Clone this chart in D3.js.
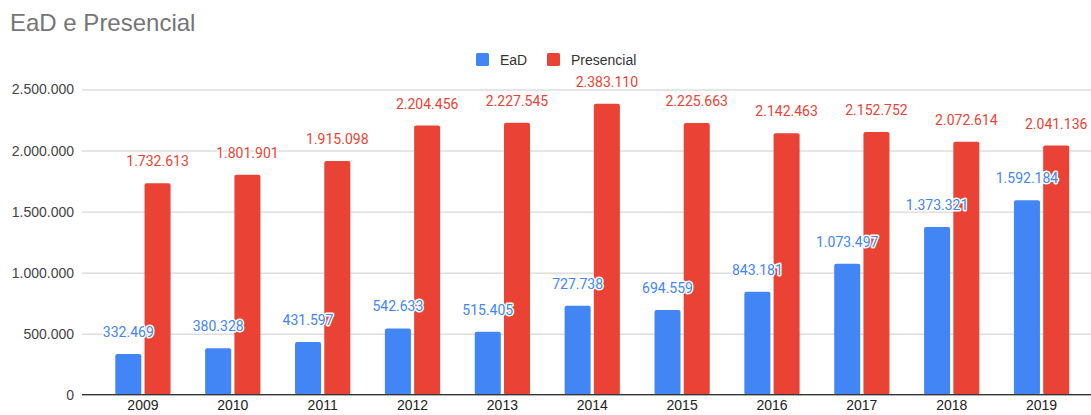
<!DOCTYPE html>
<html>
<head>
<meta charset="utf-8">
<script src="https://cdn.jsdelivr.net/npm/d3@7"></script>
<style>
  html, body { margin: 0; padding: 0; background: #fff; }
  svg { display: block; }
</style>
</head>
<body>
<svg id="chart" width="1091" height="415"></svg>
<script>
// Matrículas por ano: ensino a distância (EaD) e presencial
const years = ["2009", "2010", "2011", "2012", "2013", "2014", "2015", "2016", "2017", "2018", "2019"];
const eadValues = [332469, 380328, 431597, 542633, 515405, 727738, 694559, 843181, 1073497, 1373321, 1592184];
const presencialValues = [1732613, 1801901, 1915098, 2204456, 2227545, 2383110, 2225663, 2142463, 2152752, 2072614, 2041136];
const seriesNames = ["EaD", "Presencial"];
const seriesColors = ["#4285f4", "#ea4335"];
const yTicks = [0, 500000, 1000000, 1500000, 2000000, 2500000];

const fmt = d3.formatLocale({ decimal: ",", thousands: ".", grouping: [3], currency: ["R$", ""] }).format(",d");

const svg = d3.select("#chart");

const plot = { left: 82, right: 1091, top: 89.5, bottom: 394.7 };

const x0 = d3.scaleBand()
  .domain(years)
  .range([98, 1086.5])
  .paddingInner(0.385)
  .paddingOuter(0.1925);

const x1 = d3.scaleBand()
  .domain(seriesNames)
  .range([0, x0.bandwidth()])
  .paddingInner(0.11);

const y = d3.scaleLinear()
  .domain([0, 2500000])
  .range([plot.bottom, plot.top]);

// Title
svg.append("text")
  .attr("x", 10)
  .attr("y", 31)
  .attr("font-family", "Liberation Sans, Arial, sans-serif")
  .attr("font-size", 24)
  .attr("fill", "#757575")
  .text("EaD e Presencial");

// Gridlines and y tick labels
const yAxis = d3.axisLeft(y)
  .tickValues(yTicks)
  .tickSize(-(plot.right - plot.left))
  .tickPadding(8)
  .tickFormat(fmt);

const gy = svg.append("g")
  .attr("transform", `translate(${plot.left},0)`)
  .call(yAxis);
gy.select(".domain").remove();
gy.selectAll(".tick line").attr("stroke", "#cccccc").attr("stroke-width", 1);
gy.selectAll(".tick text")
  .attr("font-family", "Liberation Sans, Arial, sans-serif")
  .attr("font-size", 14)
  .attr("fill", "#444");

// Bars
const rows = years.map((yr, i) => ({ year: yr, values: [eadValues[i], presencialValues[i]] }));

const groups = svg.append("g")
  .selectAll("g")
  .data(rows)
  .join("g")
  .attr("transform", d => `translate(${x0(d.year)},0)`);

groups.selectAll("rect")
  .data(d => d.values.map((v, k) => ({ key: seriesNames[k], value: v, k })))
  .join("rect")
  .attr("x", d => x1(d.key))
  .attr("y", d => y(d.value))
  .attr("width", x1.bandwidth())
  .attr("height", d => y(0) - y(d.value))
  .attr("rx", 2)
  .attr("fill", d => seriesColors[d.k]);

// Baseline
svg.append("line")
  .attr("x1", plot.left)
  .attr("x2", plot.right)
  .attr("y1", y(0))
  .attr("y2", y(0))
  .attr("stroke", "#333")
  .attr("stroke-width", 1.2);

// Value labels (with white halo)
groups.selectAll("text.val")
  .data(d => d.values.map((v, k) => ({ key: seriesNames[k], value: v, k })))
  .join("text")
  .attr("class", "val")
  .attr("x", d => x1(d.key) + x1.bandwidth() / 2)
  .attr("y", d => y(d.value) - 17)
  .attr("text-anchor", "middle")
  .attr("font-family", "Roboto, Arial, sans-serif")
  .attr("font-size", 14)
  .attr("fill", d => seriesColors[d.k])
  .attr("stroke", "#fff")
  .attr("stroke-width", 3)
  .attr("stroke-linejoin", "round")
  .attr("paint-order", "stroke")
  .text(d => fmt(d.value));

// X axis labels
const xAxis = d3.axisBottom(x0).tickSize(0).tickPadding(5);
const gx = svg.append("g")
  .attr("transform", `translate(0,${y(0)})`)
  .call(xAxis);
gx.select(".domain").remove();
gx.selectAll(".tick text")
  .attr("font-family", "Liberation Sans, Arial, sans-serif")
  .attr("font-size", 14)
  .attr("fill", "#222");

// Legend
const legend = svg.append("g");
const legendItems = [
  { name: seriesNames[0], color: seriesColors[0], x: 476 },
  { name: seriesNames[1], color: seriesColors[1], x: 547 }
];
legendItems.forEach(item => {
  legend.append("rect")
    .attr("x", item.x)
    .attr("y", 53)
    .attr("width", 13)
    .attr("height", 13)
    .attr("rx", 1.5)
    .attr("fill", item.color);
  legend.append("text")
    .attr("x", item.x + 24)
    .attr("y", 64.5)
    .attr("font-family", "Liberation Sans, Arial, sans-serif")
    .attr("font-size", 14)
    .attr("fill", "#333")
    .text(item.name);
});
</script>
</body>
</html>
